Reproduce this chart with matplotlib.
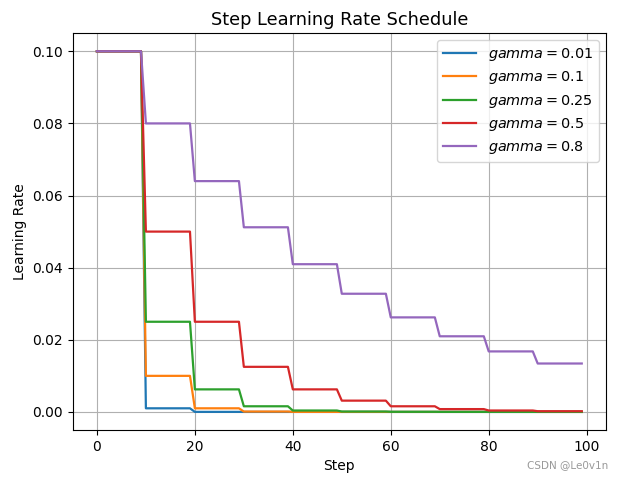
import numpy as np
import matplotlib
matplotlib.use("Agg")
import matplotlib.pyplot as plt

steps = np.arange(100)
gammas = [0.01, 0.1, 0.25, 0.5, 0.8]

# learning-rate level for each block of 10 steps
levels_001 = [0.1, 0.001, 0.00001, 0.0000001, 0.0, 0.0, 0.0, 0.0, 0.0, 0.0]
levels_01 = [0.1, 0.01, 0.001, 0.0001, 0.00001, 0.000001, 0.0, 0.0, 0.0, 0.0]
levels_025 = [0.1, 0.025, 0.00625, 0.0015625, 0.000390625, 0.0000977,
              0.0000244, 0.0000061, 0.0000015, 0.0000004]
levels_05 = [0.1, 0.05, 0.025, 0.0125, 0.00625, 0.003125,
             0.0015625, 0.00078125, 0.000390625, 0.000195]
levels_08 = [0.1, 0.08, 0.064, 0.0512, 0.04096, 0.032768,
             0.0262144, 0.02097152, 0.016777, 0.013422]

all_levels = [levels_001, levels_01, levels_025, levels_05, levels_08]

fig = plt.figure(figsize=(6.18, 4.82), dpi=100)
ax = fig.add_axes([0.1176, 0.108, 0.863, 0.823])

for g, lv in zip(gammas, all_levels):
    lr = np.repeat(lv, 10)
    ax.plot(steps, lr, lw=1.6, label=r"$gamma = " + str(g) + "$")

ax.set_title("Step Learning Rate Schedule", fontsize=12.8)
ax.set_xlabel("Step")
ax.set_ylabel("Learning Rate")
ax.grid(True)
ax.legend(loc="upper right", fontsize=10.4, labelspacing=0.43,
          handlelength=2.3)

fig.text(0.985, 0.025, "CSDN @Le0v1n", ha="right", va="bottom",
         fontsize=7.5, color="#999999")

fig.savefig("out.png", dpi=100)
